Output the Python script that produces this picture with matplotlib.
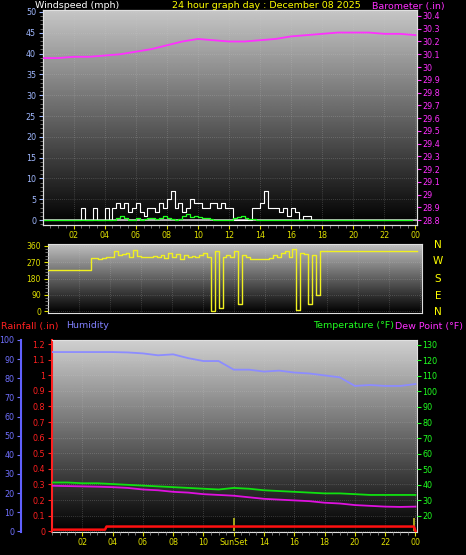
import numpy as np
import matplotlib
matplotlib.use("Agg")
import matplotlib.pyplot as plt
from matplotlib.ticker import MultipleLocator

W, H = 466, 555
# ---- data ----
hours_hr = list(range(25))
baro = [30.07,30.07,30.08,30.08,30.09,30.10,30.12,30.14,30.17,30.20,30.22,30.21,30.20,
        30.20,30.21,30.22,30.24,30.25,30.26,30.27,30.27,30.27,30.26,30.26,30.25]
t15 = [i*0.25 for i in range(96)]
gust = [0]*10 + [3,0] + [0,3,0,0, 3,0,3,4, 3,4,2,3, 4,2,1,3, 3,2,4,3, 5,7,3,4, 2,3,5,4,
        4,3,3,4, 4,3,4,3, 3,0,0,0, 0,0,3,3, 4,7,3,3, 3,2,3,1, 3,2,0,1, 1,0,0,0] + [0]*24
avgw = [0]*18 + [0,0.5,1,0.5, 0,0,0.5,0, 0.3,0.5,0.5,0.3, 0.5,1,0.5,0.3, 0,0.3,1,1.5,
        0.8,1,0.8,0.5, 0.5,0.3,0,0, 0,0,0,0.5, 0.8,1,0.5,0.3, 0.3,0,0,0, 0,0,0,0] + [0]*34
wdir = [225]*11 + [292] + [292,290,292,300, 300,330,310,315, 320,300,335,305, 300,300,298,305,
        300,310,295,320, 300,315,290,310, 300,305,300,310, 320,300,0,330, 20,300,310,300,
        330,40,310,300, 290,290,290,290, 290,295,310,300, 320,330,300,340, 5,320,315,40,
        310,90,330,330] + [330]*24
temp = [41.5,41.5,41,41,40.5,40,39.5,39,38.5,38,37.5,37,38,37.5,36.5,36,35.5,35,34.5,34.5,34,33.5,33.5,33.5,33.5]
dew = [39.4,39.2,39,38.8,38.5,38,37,36.5,35.5,35,34,33.5,33,32,31,30.5,30,29.5,28.5,28,27,26.5,26,25.8,26]
hum = [93.7,93.7,93.7,93.7,93.7,93.5,93,92,92.5,90.5,89,89,84.5,84.5,83.5,84,83,82.5,81.5,80.5,76,76.5,76,76,77]
rain_t = [0,3.5,3.6,23.9,24]
rain = [0.01,0.01,0.03,0.03,0.0]
xt = [2,4,6,8,10,12,14,16,18,20,22,24]
xtl = ['02','04','06','08','10','12','14','16','18','20','22','00']

fig = plt.figure(figsize=(W/100, H/100), dpi=100, facecolor='black')
def rect(x0, y0, x1, y1):
    return [x0/W, 1-y1/H, (x1-x0)/W, (y1-y0)/H]

def bg(ax, top=0.8):
    g = np.linspace(top, 0.0, 256).reshape(-1, 1)
    ax.imshow(g, cmap='gray', vmin=0, vmax=1, aspect='auto', extent=[0, 1, 0, 1],
              transform=ax.transAxes, zorder=0)
    ax.grid(True, color='#d0d0d0', linestyle=(0, (1, 2)), linewidth=0.5, alpha=0.4)
    ax.set_axisbelow(False)
    for s in ax.spines.values():
        s.set_color('#e0e0e0')
    ax.set_facecolor('black')

fs = 5.8
hs = 6.8
# ---- panel 1 ----
ax1 = fig.add_axes(rect(43, 10, 417, 225))
bg(ax1, 0.78)
ax1.set_xlim(0.03, 24.1); ax1.set_ylim(-1.2, 50.48)
ax1.step(t15, gust, where='post', color='white', lw=0.8, zorder=3)
ax1.step(t15, avgw, where='post', color='#20ff20', lw=0.9, zorder=4)
ax1.axhline(0, color='#d0d0d0', lw=1.2, zorder=2)
ax1.set_yticks(range(0, 51, 5))
ax1.yaxis.set_minor_locator(MultipleLocator(1))
ax1.set_xticks(xt); ax1.set_xticklabels(xtl)
ax1.xaxis.set_minor_locator(MultipleLocator(0.5))
ax1.tick_params(axis='y', colors='#a0b8ff', labelsize=fs, length=3, pad=2)
ax1.tick_params(axis='y', which='minor', colors='#808080', length=2)
ax1.tick_params(axis='x', colors='#e0e000', labelsize=fs, length=3, pad=1)
ax1.tick_params(axis='x', which='minor', colors='#808080', length=2)
ax1b = ax1.twinx()
ax1b.set_ylim(28.761, 30.447)
ax1b.plot(hours_hr, baro, color='#ff30ff', lw=1.3, zorder=5)
ax1b.set_yticks([round(28.8+0.1*i, 1) for i in range(17)])
ax1b.set_yticklabels([('%g' % round(28.8+0.1*i, 1)) for i in range(17)])
ax1b.tick_params(axis='y', colors='#ff30ff', labelsize=fs, length=3, pad=1)
for s in ax1b.spines.values():
    s.set_color('#e0e0e0')
fig.text(35/W, 1-6/H, 'Windspeed (mph)', color='white', fontsize=hs, va='center')
fig.text(172/W, 1-6/H, '24 hour graph day : December 08 2025', color='#ffff00', fontsize=hs, va='center')
fig.text(372/W, 1-6/H, 'Barometer (.in)', color='#ff30ff', fontsize=hs, va='center')

# ---- panel 2 ----
ax2 = fig.add_axes(rect(48, 244, 422, 313))
bg(ax2, 0.75)
ax2.set_xlim(0.0, 24.1); ax2.set_ylim(-10, 370)
ax2.step(t15, wdir, where='post', color='#f0f020', lw=1.0, zorder=3)
ax2.set_yticks([0, 90, 180, 270, 360])
ax2.yaxis.set_minor_locator(MultipleLocator(18))
ax2.set_xticks(xt); ax2.set_xticklabels([])
ax2.tick_params(axis='y', colors='#e0e000', labelsize=fs-0.3, length=3, pad=2)
ax2.tick_params(axis='y', which='minor', colors='#808080', length=2)
ax2.tick_params(axis='x', length=0)
for lab, yy in zip('NWSEN', [245, 261, 279, 296, 312]):
    fig.text(438/W, 1-yy/H, lab, color='#ffff00', fontsize=7.5, ha='center', va='center')

fig.text(1/W, 1-326/H, 'Rainfall (.in)', color='#ff2020', fontsize=hs, va='center')
fig.text(66/W, 1-326/H, 'Humidity', color='#8080ff', fontsize=hs, va='center')
fig.text(313/W, 1-326/H, 'Temperature (°F)', color='#20ff20', fontsize=hs, va='center')
fig.text(395/W, 1-326/H, 'Dew Point (°F)', color='#ff30ff', fontsize=hs, va='center')

# ---- panel 3 ----
ax3 = fig.add_axes(rect(52, 340, 417, 532))
bg(ax3, 0.82)
ax3.set_xlim(0.0, 24.1); ax3.set_ylim(-0.005, 1.226)
ax3.plot(rain_t, rain, color='#ff1010', lw=1.8, zorder=6)
ax3.vlines([12.0, 23.9], 0, 0.085, color='#c0c020', lw=1.2, zorder=5)
ax3.set_yticks([round(0.1*i, 1) for i in range(13)])
ax3.set_yticklabels([('%g' % round(0.1*i, 1)) for i in range(13)])
ax3.set_xticks(xt); ax3.set_xticklabels([l if l != '12' else 'SunSet' for l in xtl])
ax3.xaxis.set_minor_locator(MultipleLocator(0.5))
ax3.tick_params(axis='y', colors='#ff2020', labelsize=fs, length=3, pad=2)
ax3.tick_params(axis='x', colors='#e0e000', labelsize=fs, length=3, pad=1)
ax3.tick_params(axis='x', which='minor', colors='#808080', length=2)
ax3.spines['left'].set_color('#ff2020'); ax3.spines['left'].set_linewidth(1.5)
ax3t = ax3.twinx()
ax3t.set_ylim(9.7, 133.0)
ax3t.plot(hours_hr, temp, color='#10e010', lw=1.3, zorder=5)
ax3t.plot(hours_hr, dew, color='#e010e0', lw=1.3, zorder=5)
ax3t.set_yticks(range(20, 131, 10))
ax3t.tick_params(axis='y', colors='#20ff20', labelsize=fs, length=3, pad=1)
for s in ax3t.spines.values():
    s.set_visible(False)
ax3h = ax3.twinx()
ax3h.set_ylim(-0.3, 99.6)
ax3h.plot(hours_hr, hum, color='#8c8cff', lw=1.3, zorder=5)
ax3h.yaxis.set_ticks_position('left'); ax3h.yaxis.set_label_position('left')
ax3h.spines['left'].set_position(('outward', 22))
ax3h.spines['left'].set_color('#6060ff'); ax3h.spines['left'].set_linewidth(1.5)
for k in ['right', 'top', 'bottom']:
    ax3h.spines[k].set_visible(False)
ax3h.set_yticks(range(0, 101, 10))
ax3h.tick_params(axis='y', colors='#7070ff', labelsize=fs, length=3, pad=2)

fig.savefig('out.png', dpi=100, facecolor='black')
